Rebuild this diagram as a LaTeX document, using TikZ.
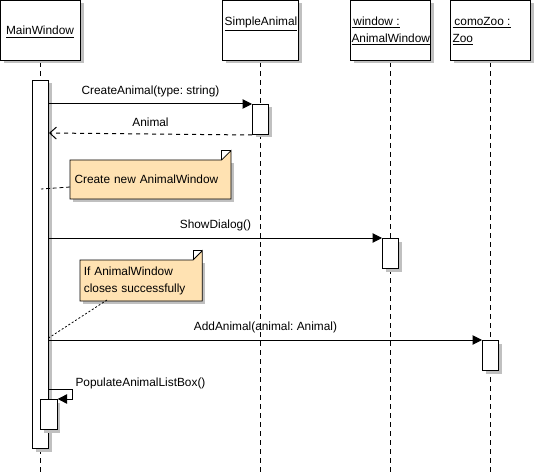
\documentclass[tikz,border=0pt]{standalone}
\usepackage{fontspec}
\setmainfont{Liberation Sans}
\usetikzlibrary{arrows.meta,shadows,backgrounds}
\definecolor{notefill}{HTML}{FFE2B2}
\definecolor{shadowgray}{HTML}{C0C0C0}
\frenchspacing
\tikzset{
  shd/.style={drop shadow={shadow xshift=2.25pt,shadow yshift=-2.25pt,fill=shadowgray,opacity=1}},
  headbox/.style={draw,fill=white,shd,anchor=north west,minimum width=60pt,minimum height=45pt,inner sep=0pt},
  bar/.style={draw,fill=white,shd,anchor=north west,minimum width=12pt,inner sep=0pt},
  life/.style={dash pattern=on 3.75pt off 3pt},
  txt/.style={font=\fontsize{8.9pt}{12.75pt}\selectfont,inner sep=0pt},
  msg/.style={-{Triangle[length=7pt,width=7pt]}},
  ret/.style={dashed,-{Straight Barb[length=5pt,width=9pt]}},
  notebox/.style={txt,anchor=north west,align=left},
}
\begin{document}
\begin{tikzpicture}[x=0.75pt,y=-0.75pt,line width=0.75pt]
\useasboundingbox (0,0) rectangle (535,474);
% lifelines
\draw[life] (40,62) -- (40,474);
\draw[life] (260,62) -- (260,474);
\draw[life] (390,62) -- (390,474);
\draw[life] (490,62) -- (490,474);
% headers
\node[headbox] (mw) at (0,0) {};
\node[headbox,minimum width=57pt] (sa) at (222,0) {};
\node[headbox] (win) at (350,0) {};
\node[headbox] (zoo) at (450,0) {};
\node[txt] (mwt) at (40,32) {\underline{MainWindow}};
\node[txt] (sat) at (261,24) {\underline{SimpleAnimal}};
\node[txt,anchor=west,align=left] (wint) at (351,31) {\underline{\,window :}\\\underline{AnimalWindow}};
\node[txt,anchor=west,align=left] (zoot) at (452,31) {\underline{\,comoZoo :}\\\underline{Zoo}};
% activation bars
\node[bar,minimum height=276pt] (bm) at (32,80) {};
\node[bar,minimum height=22.5pt] (bsa) at (252,104) {};
\node[bar,minimum height=22.5pt] (bwin) at (382,238) {};
\node[bar,minimum height=22.5pt] (bzoo) at (482,340) {};
\node[bar,minimum height=22.5pt,minimum width=12.5pt] (bself) at (40,399) {};
% messages
\draw[msg] (bm.east |- 0,104) -- node[txt,above=5pt] {CreateAnimal(type: string)} (bsa.north west);
\draw[ret] (bsa.south west) -- node[txt,above=5pt] {Animal} (bm.east |- 0,133);
\draw[msg] (bm.east |- 0,238) -- node[txt,above=5pt] {ShowDialog()} (bwin.north west);
\draw[msg] (bm.east |- 0,340) -- node[txt,above=5pt,xshift=0pt] {AddAnimal(animal: Animal)} (bzoo.north west);
\coordinate (s1) at (72,389);
\coordinate (s2) at (72,399);
\draw[msg] (bm.east |- s1) -- (s1) -- (s2) -- (bself.north east);
\node[txt,anchor=west] (pl) at (75,383) {PopulateAnimalListBox()};
% notes
\node[notebox,minimum width=120pt,minimum height=28.5pt,text width=114pt,inner xsep=3pt,inner ysep=1pt] (n1) at (70,160) {Create new AnimalWindow};
\node[notebox,minimum width=90pt,minimum height=30pt,text width=86pt,inner xsep=2.5pt,inner ysep=1pt] (n2) at (80,260) {If AnimalWindow\\closes successfully};
\begin{scope}[on background layer]
\foreach \n in {n1,n2}{
  \fill[shadowgray] ([shift={(3,3)}]\n.north west) -- ([shift={(3,3)}]\n.north east) -- ([shift={(3,3)}]\n.south east) -- ([shift={(3,3)}]\n.south west) -- cycle;
  \filldraw[fill=notefill,line width=0.6pt] (\n.north west) -- ([xshift=-7]\n.north east) -- ([yshift=7]\n.north east) -- (\n.south east) -- (\n.south west) -- cycle;
  \draw[line width=0.6pt] ([xshift=-7]\n.north east) -- ([xshift=-7,yshift=7]\n.north east) -- ([yshift=7]\n.north east);
}
\end{scope}
\coordinate (c1) at (41,189);
\coordinate (c2) at (47,339);
\draw[dash pattern=on 3pt off 2pt,line width=0.6pt] (n1.west |- 0,187) -- (c1);
\draw[dash pattern=on 1.5pt off 1.5pt,line width=0.6pt] (107,300) -- (c2);
\end{tikzpicture}
\end{document}
